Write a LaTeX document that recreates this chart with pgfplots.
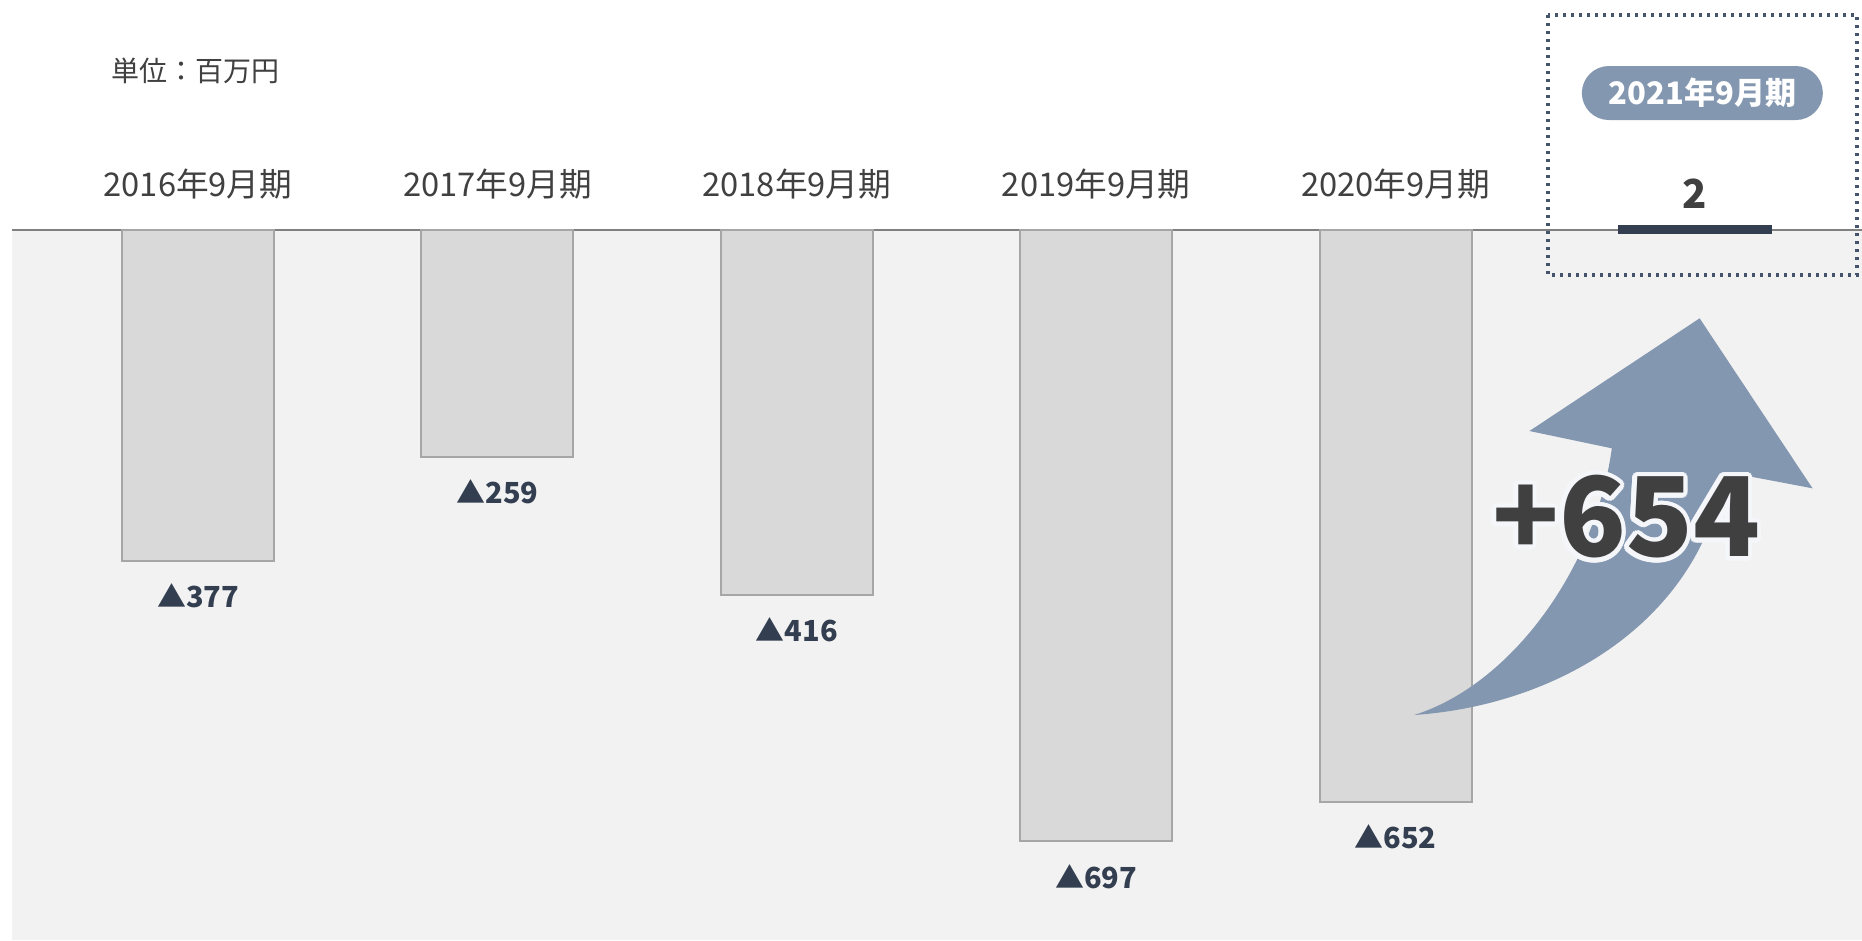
\documentclass[border=0pt]{standalone}
\usepackage{fontspec}
\setmainfont{Noto Sans CJK JP}
\usepackage{pgfplots}
\pgfplotsset{compat=1.18}
\definecolor{panel}{HTML}{F2F2F2}
\definecolor{barfill}{HTML}{D9D9D9}
\definecolor{barline}{HTML}{A6A6A6}
\definecolor{navy}{HTML}{333F50}
\definecolor{boxnavy}{HTML}{44546A}
\definecolor{steel}{HTML}{8497B0}
\definecolor{txt}{HTML}{404040}
\definecolor{glow}{HTML}{F4F6FA}
\begin{document}
\begin{tikzpicture}
\useasboundingbox (0,0) rectangle (558.6pt,282pt);
\fill[white] (0,0) rectangle (558.6pt,282pt);
\begin{scope}[shift={(0,282pt)}, x=0.3pt, y=-0.3pt]
  \fill[panel] (12,230) rectangle (1862,940);
  \draw[black!50, line width=0.4pt] (12,230) -- (1862,230);
  \node[anchor=west, text=txt, font=\fontsize{8.4}{10}\selectfont] at (100,71) {単位：百万円};
\end{scope}
\begin{axis}[at={(0,0)}, anchor=south west, scale only axis,
  width=558.6pt, height=282pt,
  xmin=-0.6613, xmax=5.5578, ymin=-809.6, ymax=262.3,
  axis line style={draw=none}, major tick length=0pt, ytick=\empty,
  xtick={0,1,2,3,4},
  xticklabels={2016年9月期,2017年9月期,2018年9月期,2019年9月期,2020年9月期},
  xticklabel pos=upper,
  xticklabel style={anchor=center, yshift=-55.2pt, text=txt, font=\fontsize{9.8}{12}\selectfont},
  extra x ticks={5}, extra x tick labels={2021年9月期},
  extra x tick style={xticklabel style={fill=steel, text=white,
      font=\fontsize{9.3}{11}\selectfont\bfseries, minimum width=72.3pt,
      minimum height=16.2pt, rounded corners=8.1pt, inner sep=0pt,
      yshift=27.3pt, xshift=2.2pt}},
  ybar, bar width=0.508, clip=false,
]
\addplot[fill=barfill, draw=barline, line width=0.6pt, bar shift=0,
  point meta=explicit symbolic,
  nodes near coords={▲\pgfplotspointmeta},
  every node near coord/.append style={anchor=center, yshift=-10.5pt, text=navy,
      font=\fontsize{8.7}{10}\selectfont\bfseries}]
  coordinates {(0,-377) [377] (1,-259) [259] (2,-416) [416] (3,-697) [697] (4,-652) [652]};
\addplot[fill=navy, draw=navy, line width=2.1pt, bar shift=0, bar width=0.488,
  point meta=explicit symbolic,
  nodes near coords={\pgfplotspointmeta},
  every node near coord/.append style={anchor=center, yshift=10.5pt, text=txt,
      font=\fontsize{12}{14}\selectfont\bfseries}]
  coordinates {(5,2) [2]};
\end{axis}
\begin{scope}[shift={(0,282pt)}, x=0.3pt, y=-0.3pt]
  \draw[boxnavy, line width=1pt, dash pattern=on 1pt off 1.4pt] (1548,15) rectangle (1857,275);
  \fill[steel] (1414,715) .. controls (1560,705) and (1700,620) .. (1724.7,471.7)
     -- (1812.5,488.3) -- (1699.6,318.3) -- (1529.4,431) -- (1611.8,448.3)
     .. controls (1595,570) and (1510,685) .. (1414,715) -- cycle;
  \foreach \a in {0,22.5,...,337.5}
    \node[text=glow, font=\fontsize{33}{38}\selectfont\bfseries, shift={(\a:1.4pt)}] at (1626,517) {+654};
  \node[text=txt, font=\fontsize{33}{38}\selectfont\bfseries] at (1626,517) {+654};
\end{scope}
\end{tikzpicture}
\end{document}
